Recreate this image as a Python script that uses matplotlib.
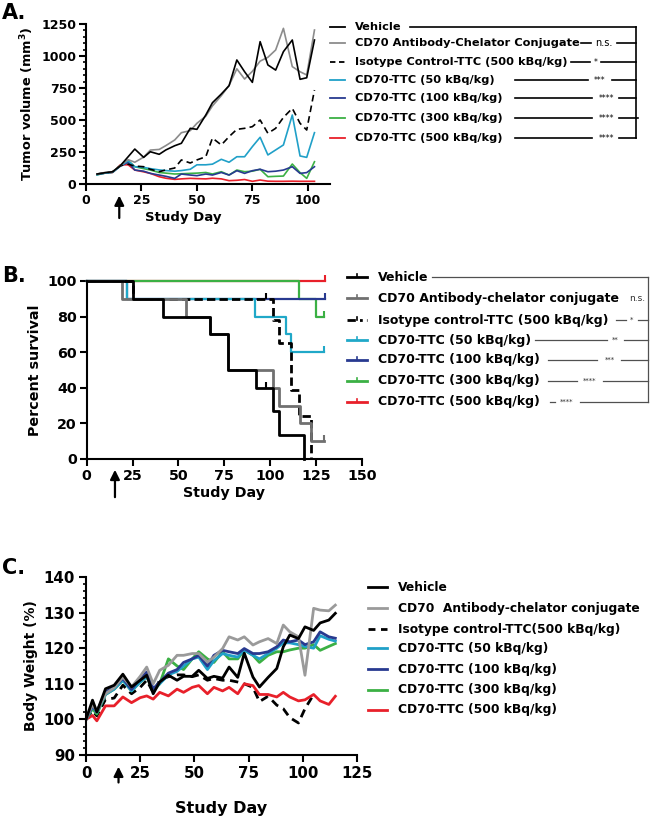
import numpy as np
import matplotlib
matplotlib.use('Agg')
import matplotlib.pyplot as plt
from matplotlib.lines import Line2D
from matplotlib.ticker import MultipleLocator

plt.rcParams['font.family'] = ['DejaVu Sans']
plt.rcParams['font.weight'] = 'bold'
plt.rcParams['axes.labelweight'] = 'bold'
plt.rcParams['mathtext.fontset'] = 'dejavusans'
plt.rcParams['axes.linewidth'] = 1.5

# ---------------- data ----------------
groups_a = ['Vehicle', 'CD70 Antibody-Chelator Conjugate', 'Isotype Control-TTC (500 kBq/kg)',
            'CD70-TTC (50 kBq/kg)', 'CD70-TTC (100 kBq/kg)', 'CD70-TTC (300 kBq/kg)',
            'CD70-TTC (500 kBq/kg)']
groups_b = ['Vehicle', 'CD70 Antibody-chelator conjugate', 'Isotype control-TTC (500 kBq/kg)',
            'CD70-TTC (50 kBq/kg)', 'CD70-TTC (100 kBq/kg)', 'CD70-TTC (300 kBq/kg)',
            'CD70-TTC (500 kBq/kg)']
groups_c = ['Vehicle', 'CD70  Antibody-chelator conjugate', 'Isotype control-TTC(500 kBq/kg)',
            'CD70-TTC (50 kBq/kg)', 'CD70-TTC (100 kBq/kg)', 'CD70-TTC (300 kBq/kg)',
            'CD70-TTC (500 kBq/kg)']
sig_a = ['', 'n.s.', '*', '***', '****', '****', '****']
sig_b = ['', 'n.s.', '*', '**', '***', '****', '****']

# A: tumor volume
days_a = [5, 8.5, 12, 15.5, 19, 22, 26, 29, 33, 36, 40, 43, 47, 50, 54, 57, 61, 64.5, 68,
          71.5, 75, 78.5, 82, 85.5, 89, 93, 96.5, 99.5, 103]
vol_vehicle = [78, 88, 96, 143, 213, 273, 208, 252, 232, 266, 299, 318, 435, 427, 539, 635, 703,
               768, 969, 877, 794, 1112, 930, 890, 1034, 1125, 818, 830, 1125]
vol_ab = [78, 90, 96, 145, 190, 170, 210, 265, 270, 300, 344, 401, 417, 474, 530, 610, 690, 770,
          900, 820, 880, 960, 990, 1047, 1216, 917, 877, 852, 1203]
vol_iso = [78, 88, 96, 143, 155, 140, 135, 115, 96, 110, 125, 188, 164, 188, 213, 359, 305, 370,
           427, 435, 448, 500, 396, 435, 520, 591, 474, 422, 734]
vol_50 = [72, 85, 92, 140, 182, 135, 130, 120, 110, 105, 100, 105, 115, 150, 150, 155, 193, 170,
          213, 213, 292, 365, 227, 266, 305, 539, 219, 208, 401]
vol_100 = [75, 85, 92, 140, 170, 109, 100, 83, 70, 60, 44, 78, 70, 65, 78, 70, 90, 70, 104, 83,
           104, 115, 96, 100, 109, 135, 83, 89, 135]
vol_300 = [72, 85, 92, 145, 182, 135, 120, 109, 90, 85, 78, 80, 83, 85, 90, 78, 96, 70, 109, 96,
           100, 115, 57, 60, 62, 156, 89, 44, 174]
vol_500 = [75, 85, 90, 150, 150, 109, 95, 83, 57, 45, 36, 40, 44, 42, 40, 45, 40, 26, 29, 35, 21,
           31, 22, 21, 21, 22, 21, 21, 21]

# B: survival (event days, survival %, last day, censored points)
surv_vehicle_t = [0, 25.4, 41.6, 67, 77, 92, 101.4, 105, 118.6]
surv_vehicle_s = [100, 90, 80, 70, 50, 40, 26.7, 13.3, 0]
surv_ab_t = [0, 19, 54.3, 67, 77, 101.4, 104.7, 116, 122.3]
surv_ab_s = [100, 90, 80, 70, 50, 40, 30, 20, 10]
surv_iso_t = [0, 25.4, 101.6, 105, 111.4, 115.6, 122.3]
surv_iso_s = [100, 90, 78, 65, 39, 24, 0]
surv_50_t = [0, 22, 91.5, 108.6, 111.4]
surv_50_s = [100, 90, 80, 70, 60]
surv_100_t = [0, 21.7]
surv_100_s = [100, 90]
surv_300_t = [0, 115.5, 125]
surv_300_s = [100, 90, 80]
surv_500_t = [0]
surv_500_s = [100]
surv_end = [118.6, 129.5, 122.3, 129.5, 130, 129.5, 130]
cens_t = [[97.8], [129.5], [97.8], [129.5], [130], [129.5], [130]]
cens_s = [[40], [10], [90], [60], [90], [80], [100]]

# C: body weight
days_c = [0, 3, 5, 9, 13, 17, 21, 25, 28, 31, 34, 38, 42, 45, 49, 52, 56, 59, 63, 66, 70, 73,
          77, 80, 84, 88, 91, 94, 98, 101, 105, 108, 112, 115]
bw_vehicle = [100, 105.4, 102.1, 108.6, 109.6, 112.7, 109.1, 111, 112.4, 107.2, 110.5, 112.4,
              111, 112.1, 112.1, 113.8, 111.5, 112.1, 111.6, 114.7, 111.8, 118.6, 111.9, 109.1,
              111.8, 114.3, 120.4, 123.7, 122.7, 126, 125, 127.1, 127.9, 129.8]
bw_ab = [100, 104.2, 102.3, 107.2, 108.9, 111.9, 109.1, 112.1, 114.7, 110, 113.8, 115.2, 118,
         118, 118.5, 118.5, 116.1, 117.5, 119.9, 123.2, 122.3, 123.2, 120.9, 121.8, 122.7, 121.3,
         126.5, 124.6, 123.2, 112.4, 131.2, 130.7, 130.5, 132.1]
bw_iso = [100, 102.4, 101, 105.6, 106, 109.6, 107.2, 109, 111, 107.5, 111, 112, 112.5, 112.5,
          112, 112.5, 111, 111.5, 111, 111, 110.5, 110, 109, 105, 106.5, 104, 103, 100.5, 99,
          103, 107]
bw_50 = [100, 103.5, 102, 107, 108.5, 111, 108, 110.5, 112, 108.5, 110, 112.5, 113.5, 115, 117,
         117.5, 114, 116.5, 118.5, 118, 117.5, 119.5, 118, 117, 118.5, 120, 121.5, 121.5, 121,
         120.5, 120, 123.5, 122.5, 122]
bw_100 = [100, 103.8, 102.1, 107.7, 109.1, 111.5, 108.4, 111.5, 113.3, 108.6, 110.5, 113, 114,
          116, 117, 118, 115, 118, 119.4, 119, 118.5, 119.9, 118.5, 118.5, 119, 120.4, 122.3,
          121.8, 122.3, 121, 121.8, 124.6, 123.2, 122.8]
bw_300 = [100, 103, 101.5, 107, 108.5, 111, 108, 110.5, 112, 108, 110, 117, 115, 114, 117, 119,
          117, 116, 119, 117, 117, 119.5, 118, 116, 118, 119, 119, 119.5, 120, 120, 121, 119.4,
          120.5, 121.3]
bw_500 = [100, 101.1, 99.6, 103.8, 103.8, 106.3, 104.7, 106.1, 106.6, 105.7, 107.6, 106.6, 108.5,
          107.6, 109, 109.5, 107.2, 109, 108, 109, 107.2, 110, 109.5, 107, 107, 106.3, 107.6,
          106.3, 105.2, 105.5, 107, 105.2, 104.2, 106.5]

# ---------------- style ----------------
col = ['black', '#8c8c8c', 'black', '#20a0c8', '#283a90', '#3bb044', '#e8202a']
col_b = ['black', '#707070', 'black', '#20a8c8', '#283a90', '#3bb044', '#e8202a']
col_c = ['black', '#9a9a9a', 'black', '#20a0c8', '#283a90', '#3bb044', '#e8202a']

W, H = 650, 824
fig = plt.figure(figsize=(6.5, 8.24), dpi=100)


def fx(x):
    return x / W


def fy(y):
    return 1 - y / H


def panel(l, t, r, b):
    ax = fig.add_axes([l / W, 1 - b / H, (r - l) / W, (b - t) / H])
    for s in ['top', 'right']:
        ax.spines[s].set_visible(False)
    ax.tick_params(which='major', length=5, width=1.5, direction='out')
    ax.tick_params(which='minor', length=2.5, width=1.2, direction='out')
    return ax


def bold_ticks(ax):
    for lab in ax.get_xticklabels() + ax.get_yticklabels():
        lab.set_fontweight('bold')


def arrow(ax, x, y0, y1):
    ax.annotate('', xy=(x, y1), xytext=(x, y0), xycoords=('data', 'axes fraction'),
                arrowprops=dict(arrowstyle='-|>', color='black', lw=1.6, mutation_scale=14),
                annotation_clip=False)


def hline(x0, x1, y, lw=1.0, color='black', ls='-'):
    fig.add_artist(Line2D([fx(x0), fx(x1)], [fy(y), fy(y)], color=color, lw=lw, ls=ls))


def vline(x, y0, y1, lw=1.0, color='black'):
    fig.add_artist(Line2D([fx(x), fx(x)], [fy(y0), fy(y1)], color=color, lw=lw))


# ---------------- panel A ----------------
axA = panel(86, 24, 330, 184)
series_a = [vol_vehicle, vol_ab, vol_iso, vol_50, vol_100, vol_300, vol_500]
for i in [6, 5, 4, 3, 2, 1, 0]:
    ls = (0, (4, 2.5)) if i == 2 else '-'
    axA.plot(days_a, series_a[i], color=col[i], lw=1.2, ls=ls, clip_on=False)
axA.set_xlim(0, 110)
axA.set_ylim(0, 1250)
axA.set_xticks([0, 25, 50, 75, 100])
axA.yaxis.set_major_locator(MultipleLocator(250))
axA.yaxis.set_minor_locator(MultipleLocator(50))
axA.tick_params(labelsize=9, pad=2)
axA.set_ylabel('Tumor volume (mm$^{\\mathbf{3}}$)', fontsize=9.3, labelpad=4)
axA.set_xlabel('Study Day', fontsize=9.5, labelpad=3)
axA.xaxis.set_label_coords(0.40, -0.17)
bold_ticks(axA)
arrow(axA, 15, -0.23, -0.055)
fig.text(fx(2), fy(3), 'A.', fontsize=15, va='top', ha='left')

rows_a = [26.7, 43.3, 62.3, 80, 98.3, 118.3, 138.3]
for i, y in enumerate(rows_a):
    ls = (0, (3, 2)) if i == 2 else '-'
    hline(330, 345, y, lw=1.3, color=col[i], ls=ls)
    fig.text(fx(355), fy(y), groups_a[i], fontsize=8.2, va='center', ha='left')
vline(636, rows_a[0], rows_a[-1], lw=1.2)
conn_a = [[(410, 636)],
          [(581, 591), (617, 636)],
          [(571, 590), (601, 636)],
          [(515, 588), (612, 636)],
          [(515, 592), (619, 636)],
          [(515, 592), (619, 638)],
          [(515, 592), (619, 636)]]
sigx_a = [0, 604, 596, 600, 606, 606, 606]
for i, y in enumerate(rows_a):
    for x0, x1 in conn_a[i]:
        hline(x0, x1, y, lw=1.2)
    if sig_a[i]:
        fig.text(fx(sigx_a[i]), fy(y), sig_a[i], fontsize=7 if i == 1 else 5.5,
                 fontweight='normal', va='center', ha='center')

# ---------------- panel B ----------------
axB = panel(86.7, 281, 362, 459)
surv_t = [surv_vehicle_t, surv_ab_t, surv_iso_t, surv_50_t, surv_100_t, surv_300_t, surv_500_t]
surv_s = [surv_vehicle_s, surv_ab_s, surv_iso_s, surv_50_s, surv_100_s, surv_300_s, surv_500_s]
for i in [6, 5, 4, 3, 2, 1, 0]:
    t = surv_t[i] + [surv_end[i]]
    s = surv_s[i] + [surv_s[i][-1]]
    lw = 2.0 if i < 3 else 1.6
    ls = (0, (3, 1.5)) if i == 2 else '-'
    axB.step(t, s, where='post', color=col_b[i], lw=lw, ls=ls, clip_on=False)
    axB.plot(cens_t[i], cens_s[i], ls='none', marker=2, ms=4, mew=1.5,
             color=col_b[i], clip_on=False)
axB.set_xlim(0, 150)
axB.set_ylim(0, 100)
axB.xaxis.set_major_locator(MultipleLocator(25))
axB.yaxis.set_major_locator(MultipleLocator(20))
axB.tick_params(labelsize=10.3, pad=2)
axB.set_ylabel('Percent survival', fontsize=10.3, labelpad=4)
axB.set_xlabel('Study Day', fontsize=10.3, labelpad=2)
bold_ticks(axB)
arrow(axB, 15.4, -0.23, -0.045)
fig.text(fx(2), fy(266), 'B.', fontsize=15, va='top', ha='left')

rows_b = [277.3, 298.3, 320, 340, 360, 380.7, 401.7]
for i, y in enumerate(rows_b):
    ls = (0, (3, 1.5, 1, 1.5)) if i == 2 else '-'
    hline(347, 367, y, lw=2.0, color=col_b[i], ls=ls)
    vline(357, y, y - 3, lw=1.2, color=col_b[i])
    fig.text(fx(378), fy(y), groups_b[i], fontsize=9.0, va='center', ha='left')
gray_line = '#505050'
vline(648, rows_b[0], rows_b[-1], lw=0.9, color=gray_line)
conn_b = [[(432, 648)],
          [],
          [(616, 626), (638, 648)],
          [(535, 607), (624, 648)],
          [(548, 597), (621, 648)],
          [(548, 577), (603, 648)],
          [(550, 555), (580, 648)]]
sigx_b = [0, 637, 632, 615, 610, 590, 567]
for i, y in enumerate(rows_b):
    for x0, x1 in conn_b[i]:
        hline(x0, x1, y, lw=0.9, color=gray_line)
    if sig_b[i]:
        fig.text(fx(sigx_b[i]), fy(y), sig_b[i], fontsize=6.5 if i == 1 else 5,
                 fontweight='normal', va='center', ha='center', color='#303030')

# ---------------- panel C ----------------
axC = panel(86, 577, 357, 755)
series_c = [bw_vehicle, bw_ab, bw_iso, bw_50, bw_100, bw_300, bw_500]
for i in [2, 6, 5, 3, 4, 1, 0]:
    ls = (0, (3, 2)) if i == 2 else '-'
    axC.plot(days_c[:len(series_c[i])], series_c[i], color=col_c[i], lw=2.0, ls=ls)
axC.set_xlim(0, 125)
axC.set_ylim(90, 140)
axC.xaxis.set_major_locator(MultipleLocator(25))
axC.yaxis.set_major_locator(MultipleLocator(10))
axC.yaxis.set_minor_locator(MultipleLocator(2))
axC.tick_params(labelsize=10.8, pad=3)
axC.set_ylabel('Body Weight (%)', fontsize=10, labelpad=4)
axC.set_xlabel('Study Day', fontsize=11.5, labelpad=14)
bold_ticks(axC)
arrow(axC, 15, -0.17, -0.05)
fig.text(fx(2), fy(558), 'C.', fontsize=15, va='top', ha='left')

rows_c = [587.3, 608.3, 629.3, 648.3, 669.3, 690, 710]
for i, y in enumerate(rows_c):
    ls = (0, (2.5, 2)) if i == 2 else '-'
    hline(368, 387, y, lw=2.0, color=col_c[i], ls=ls)
    fig.text(fx(398), fy(y), groups_c[i], fontsize=8.8, va='center', ha='left')

fig.savefig('out.png', dpi=100)
